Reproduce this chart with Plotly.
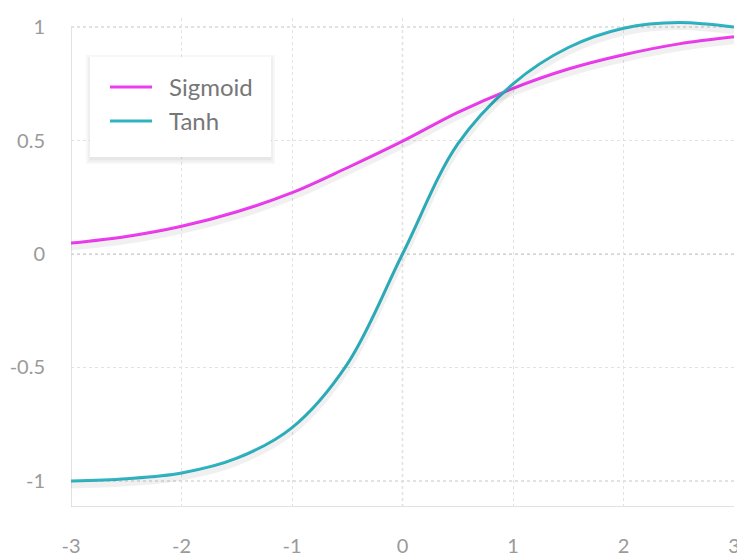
import plotly.graph_objects as go

# ---- data ----
x_vals = [-3, -2.5, -2, -1.5, -1, -0.5, 0, 0.5, 1, 1.5, 2, 2.5, 3]
sigmoid = [0.048, 0.077, 0.122, 0.186, 0.27, 0.38, 0.497, 0.624, 0.73, 0.815, 0.878, 0.926, 0.957]
tanh = [-1.0, -0.99, -0.965, -0.90, -0.765, -0.485, 0.0, 0.485, 0.75, 0.91, 0.995, 1.02, 1.0]
series_names = ["Sigmoid", "Tanh"]
x_ticks = [-3, -2, -1, 0, 1, 2, 3]
x_ticktext = ["-3", "-2", "-1", "0", "1", "2", "3"]
y_ticks = [-1, -0.5, 0, 0.5, 1]
y_ticktext = ["-1", "-0.5", "0", "0.5", "1"]

# ---- style ----
OFF = 8  # page body margin of the browser
W, H = 745 - OFF, 557 - OFF
PL, PR, PT, PB = 71, 734, 18, 507   # plot area in window pixels
L, R, T, B = PL - OFF, (745 - OFF) - (PR - OFF), PT - OFF, H - (PB - OFF)
PW, PH = W - L - R, H - T - B
YLO, YHI = -1.115, 1.04
C_SIG = "#ee3cef"
C_TANH = "#2fb4c2"
FONT = "Lato"
SHIFT = 4 / (PH / (YHI - YLO))  # shadow offset in data units (4px)


def px_x(p):
    return (p - PL) / (PR - PL)


def px_y(p):
    return (PB - p) / (PB - PT)


fig = go.Figure()

# shadows
for ys in (sigmoid, tanh):
    fig.add_trace(go.Scatter(
        x=x_vals, y=ys, mode="lines", yaxis="y2", hoverinfo="skip",
        line=dict(color="rgba(0,0,0,0.06)", width=7, shape="spline", smoothing=1),
        showlegend=False))

for name, ys, col in zip(series_names, (sigmoid, tanh), (C_SIG, C_TANH)):
    fig.add_trace(go.Scatter(
        x=x_vals, y=ys, mode="lines", name=name,
        line=dict(color=col, width=3, shape="spline", smoothing=1),
        showlegend=False))

shapes = []
# darker dotted reference lines
for yv, c in ((0, "#a8a8a8"), (1, "#c4c4c4"), (-1, "#c4c4c4")):
    shapes.append(dict(type="line", xref="x", yref="y", x0=-3, x1=3, y0=yv, y1=yv,
                       line=dict(color=c, width=1.2, dash="dot"), layer="below"))
shapes.append(dict(type="line", xref="x", yref="y", x0=0, x1=0, y0=YLO, y1=1,
                   line=dict(color="#a8a8a8", width=1.2, dash="dot"), layer="below"))
# axis lines
shapes.append(dict(type="line", xref="x", yref="y", x0=-3, x1=-3, y0=YLO, y1=1,
                   line=dict(color="#cfcfcf", width=1.2), layer="below"))
shapes.append(dict(type="line", xref="x", yref="y", x0=-3, x1=3, y0=YLO, y1=YLO,
                   line=dict(color="#d8d8d8", width=1.5), layer="below"))

# legend box with soft shadow
bx0, bx1, by0, by1 = 90, 271, 57, 157
for i, a in enumerate((0.03, 0.03, 0.03)):
    o = 2 + i * 2
    shapes.append(dict(type="rect", xref="paper", yref="paper",
                       x0=px_x(bx0 - o + 2), x1=px_x(bx1 + o - 2),
                       y0=px_y(by1 + o + 1), y1=px_y(by0 - o + 4),
                       line=dict(width=0), fillcolor=f"rgba(0,0,0,{a})", layer="above"))
shapes.append(dict(type="rect", xref="paper", yref="paper",
                   x0=px_x(bx0), x1=px_x(bx1), y0=px_y(by1), y1=px_y(by0),
                   line=dict(width=0), fillcolor="white", layer="above"))

annotations = []
rows = [(87, C_SIG, series_names[0]), (121, C_TANH, series_names[1])]
for py, col, name in rows:
    shapes.append(dict(type="line", xref="paper", yref="paper",
                       x0=px_x(110), x1=px_x(152), y0=px_y(py), y1=px_y(py),
                       line=dict(color=col, width=3), layer="above"))
    annotations.append(dict(xref="paper", yref="paper", x=px_x(167), y=px_y(py),
                            xanchor="left", yanchor="middle", showarrow=False,
                            text=name, font=dict(family=FONT, size=24, color="#777777")))

axis_common = dict(showline=False, zeroline=False, ticks="", automargin=False,
                   gridcolor="#e2e2e2", griddash="dot", gridwidth=1.2,
                   tickfont=dict(family=FONT, size=20, color="#9a9a9a"))

fig.update_layout(
    width=W, height=H,
    margin=dict(l=L, r=R, t=T, b=B),
    paper_bgcolor="white", plot_bgcolor="white",
    xaxis=dict(range=[-3, 3], tickvals=x_ticks, ticktext=x_ticktext,
               ticklabelstandoff=25, **axis_common),
    yaxis=dict(range=[YLO, YHI], tickvals=y_ticks, ticktext=y_ticktext,
               ticklabelstandoff=25, **axis_common),
    yaxis2=dict(range=[YLO + SHIFT, YHI + SHIFT], overlaying="y", visible=False),
    shapes=shapes, annotations=annotations,
    showlegend=False,
)

fig.write_html("out.html")
